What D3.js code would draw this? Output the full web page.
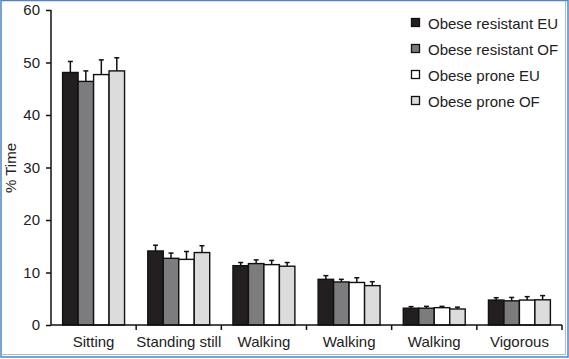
<!DOCTYPE html>
<html><head><meta charset="utf-8">
<script src="https://cdn.jsdelivr.net/npm/d3@7"></script>
<style>body{margin:0;background:#fff}svg{display:block}text{font-family:"Liberation Sans",Arial,sans-serif;fill:#222}</style>
</head><body><svg id="c" width="569" height="359"></svg>
<script>
const categories = ["Sitting","Standing still","Walking","Walking","Walking","Vigorous"];
const seriesNames = ["Obese resistant EU","Obese resistant OF","Obese prone EU","Obese prone OF"];
const seriesColors = ["#231f20","#7c7c7f","#ffffff","#dcdcdc"];
const resistantEU = [48.1, 14.1, 11.3, 8.7, 3.2, 4.75];
const resistantOF = [46.4, 12.7, 11.7, 8.2, 3.2, 4.6];
const proneEU     = [47.7, 12.5, 11.5, 8.1, 3.3, 4.75];
const proneOF     = [48.4, 13.8, 11.2, 7.5, 3.05, 4.8];
const resistantEUerr = [50.2, 15.2, 11.9, 9.4, 3.5, 5.2];
const resistantOFerr = [48.4, 13.7, 12.4, 8.7, 3.55, 5.25];
const proneEUerr     = [50.5, 14.0, 12.3, 9.0, 3.55, 5.4];
const proneOFerr     = [50.9, 15.1, 11.9, 8.25, 3.4, 5.6];
const yTicks = [0,10,20,30,40,50,60];

const values = [resistantEU, resistantOF, proneEU, proneOF];
const errs = [resistantEUerr, resistantOFerr, proneEUerr, proneOFerr];

const svg = d3.select("#c");
// frame
svg.append("rect").attr("x",1).attr("y",0.5).attr("width",567).attr("height",356.5)
  .attr("fill","none").attr("stroke","#4a86c8").attr("stroke-width",1.5);
svg.append("line").attr("x1",1).attr("x2",565).attr("y1",354.5).attr("y2",354.5).attr("stroke","#b8b8b8");
svg.append("line").attr("x1",565.5).attr("x2",565.5).attr("y1",1).attr("y2",355).attr("stroke","#b8b8b8");

const L = 51, R = 562, T = 10, B = 325;
const idx = d3.range(categories.length);
const x0 = d3.scaleBand().domain(idx).range([L,R]).padding(0);
const x1 = d3.scaleBand().domain(d3.range(4)).range([0,x0.bandwidth()]).paddingInner(0).paddingOuter(0.75);
const y = d3.scaleLinear().domain([0,60]).range([B,T]);

const g = svg.append("g");
idx.forEach(i => {
  const gg = g.append("g").attr("transform",`translate(${x0(i)},0)`);
  for (let s=0;s<4;s++){
    const bx = x1(s), bw = x1.bandwidth(), v = values[s][i], e = errs[s][i];
    const cx = bx + bw/2;
    gg.append("line").attr("x1",cx).attr("x2",cx).attr("y1",y(v)).attr("y2",y(e)).attr("stroke","#111").attr("stroke-width",1.5);
    gg.append("line").attr("x1",cx-2.5).attr("x2",cx+2.5).attr("y1",y(e)).attr("y2",y(e)).attr("stroke","#111").attr("stroke-width",1.5);
    gg.append("rect").attr("x",bx).attr("y",y(v)).attr("width",bw).attr("height",B-y(v))
      .attr("fill",seriesColors[s]).attr("stroke","#111").attr("stroke-width",1.4);
  }
});

// y axis
const ya = svg.append("g").attr("transform",`translate(${L},0)`)
  .call(d3.axisLeft(y).tickValues(yTicks).tickSize(5).tickPadding(6).tickFormat(d3.format("d")));
ya.select(".domain").attr("d",`M-0,${T}V${B}`).attr("stroke","#111").attr("stroke-width",1.5);
ya.selectAll(".tick line").attr("stroke","#111").attr("stroke-width",1.5);
ya.selectAll("text").style("font-size","15px").attr("fill","#222");

// x axis
const xa = svg.append("g").attr("transform",`translate(0,${B})`)
  .call(d3.axisBottom(x0).tickSize(0).tickPadding(11).tickFormat(i => categories[i]));
xa.select(".domain").attr("d",`M${L},0H${R}`).attr("stroke","#111").attr("stroke-width",1.5);
xa.selectAll("text").style("font-size","15px").attr("fill","#222");
idx.forEach(i => {
  const bx = x0(i) + x0.bandwidth();
  svg.append("line").attr("x1",bx).attr("x2",bx).attr("y1",B).attr("y2",B+5).attr("stroke","#111").attr("stroke-width",1.5);
});

// y label
svg.append("text").attr("transform","translate(16,168) rotate(-90)").attr("text-anchor","middle")
  .style("font-size","15px").text("% Time");

// legend
const lg = svg.append("g");
seriesNames.forEach((n,s) => {
  const cy = 23 + s*26;
  lg.append("rect").attr("x",411.5).attr("y",cy-4.5).attr("width",8).attr("height",8)
    .attr("fill",seriesColors[s]).attr("stroke","#111").attr("stroke-width",1.3);
  lg.append("text").attr("x",428).attr("y",cy+5.5).style("font-size","15px").text(n);
});
</script></body></html>
